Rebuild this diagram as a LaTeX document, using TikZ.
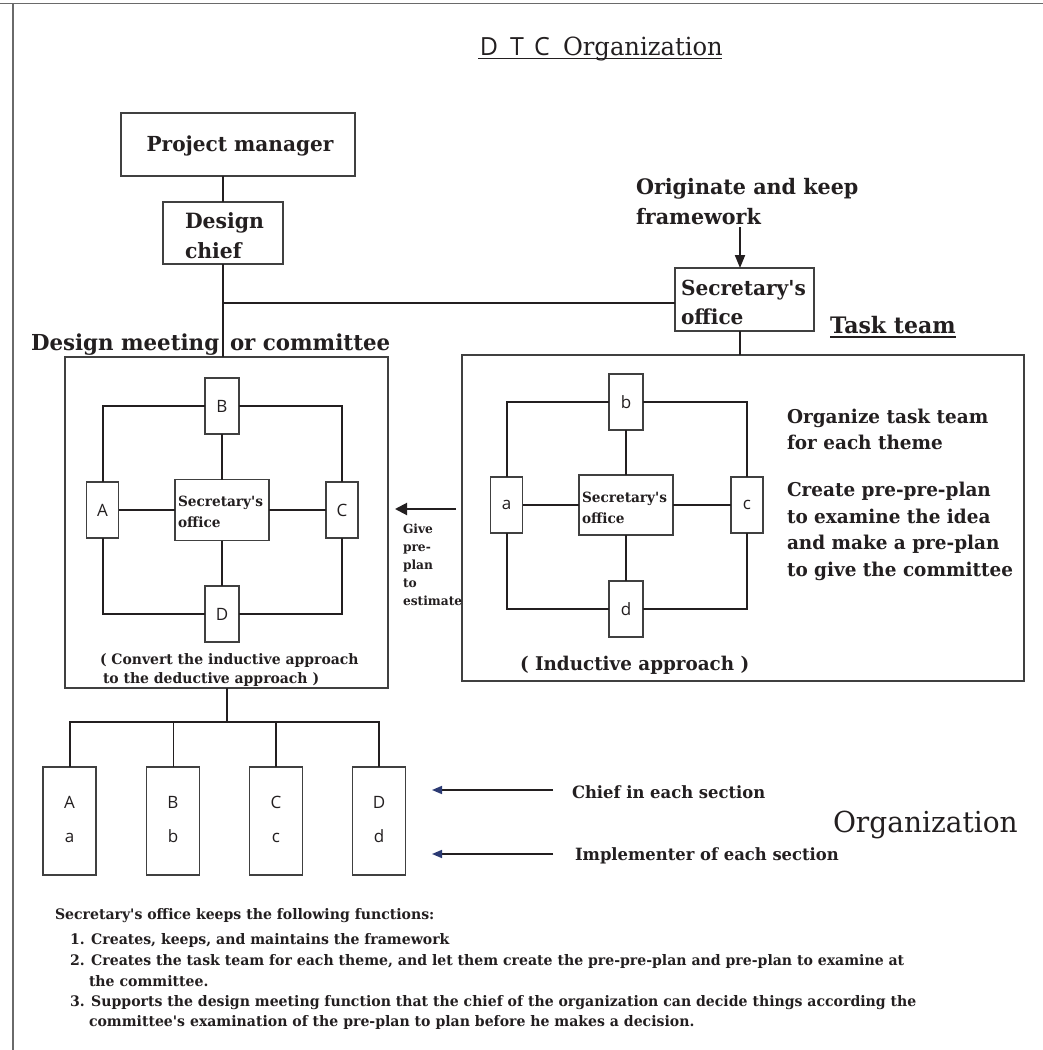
\documentclass[tikz,border=0pt]{standalone}
\usepackage{fontspec}
\setmainfont{DejaVu Serif}[FakeStretch=0.97,Ligatures=TeXOff]
\newfontfamily\sansf{Open Sans}
\usetikzlibrary{arrows.meta}
\definecolor{ink}{HTML}{231F20}
\definecolor{boxc}{HTML}{404040}
\definecolor{framec}{HTML}{6A6A6A}
\definecolor{navyc}{HTML}{2B3A73}
\newcommand\fs[1]{\fontsize{#1}{#1}\selectfont}
\begin{document}
\begin{tikzpicture}[x=1pt,y=-1pt,
  box/.style={draw=boxc,line width=1.3pt,fill=white,inner sep=0pt,outer sep=0pt},
  ltr/.style={box,font=\sansf\fs{17},text=ink},
  conn/.style={draw=ink,line width=2pt},
  tl/.style={inner sep=0pt,outer sep=0pt,anchor=base west,text=ink},
  tc/.style={inner sep=0pt,outer sep=0pt,anchor=base,text=ink},
  bt/.style={font=\bfseries\fs{#1}},
  rt/.style={font=\fs{#1}},
  sn/.style={font=\sansf\fs{#1}},
  tipbig/.style={-{Triangle[length=13pt,width=10pt]}},
  tipnavy/.style={-{Triangle[length=10pt,width=8pt,color=navyc]}}
]
\useasboundingbox (0,0) rectangle (1043,1050);
\fill[white] (0,0) rectangle (1043,1050);
% frame
\draw[framec,line width=1.6pt] (0,3.5) -- (1043,3.5);
\draw[framec,line width=1.6pt] (13,3.5) -- (13,1050);

% title
\node[tc,sn=25] (tD) at (489,55) {D};
\node[tc,sn=25] (tT) at (517,55) {T};
\node[tc,sn=25] (tC) at (542,55) {C};
\node[tl,rt=25] (tO) at (563,55) {Organization};
\draw[ink,line width=1.3pt] (478,58.5) -- (722,58.5);

% project manager / design chief
\node[box,minimum width=234pt,minimum height=63pt] (pm) at (238,144.5) {};
\node[tc,bt=20.7] (pmt) at (240,151) {Project manager};
\node[box,minimum width=120pt,minimum height=62pt] (dc) at (223,233) {};
\node[tl,bt=21] (dct1) at (185,228) {Design};
\node[tl,bt=21] (dct2) at (185,258) {chief};

% committee and task boxes
\node[box,fill=none,minimum width=323pt,minimum height=331pt] (comm) at (226.5,522.5) {};
\node[box,fill=none,minimum width=562pt,minimum height=326pt] (task) at (743,518) {};

% secretary top
\node[box,minimum width=139pt,minimum height=63pt] (secT) at (744.5,299.5) {};
\node[tl,bt=20.7] (sct1) at (681,295) {Secretary's};
\node[tl,bt=20.7] (sct2) at (681,324) {office};

\coordinate (hj) at (223,303);
\coordinate (vx) at (740,0);
\coordinate (fa) at (740,227);
\draw[conn] (pm.south -| dc) -- (dc.north);
\draw[conn] (dc.south) -- (dc.south |- comm.north);
\draw[conn] (hj) -- (hj -| secT.west);
\draw[conn] (vx |- secT.south) -- (vx |- task.north);
\draw[conn,tipbig] (fa) -- (fa |- secT.north);

\node[tl,bt=21.3] (or1) at (636,194) {Originate and keep};
\node[tl,bt=21.3] (or2) at (636,224) {framework};

\node[tl,bt=22] (dm1) at (31,350) {Design meeting};
\node[tl,bt=22] (dm2) at (230,350) {or committee};

\node[tl,bt=22.7] (tt) at (830,333) {Task team};
\draw[ink,line width=1.5pt] ([yshift=-4pt]tt.base west) -- ([yshift=-4pt]tt.base east);

% left inner diagram
\node[ltr,minimum width=34pt,minimum height=56pt] (LB) at (222,406) {B};
\node[ltr,minimum width=32pt,minimum height=56pt] (LA) at (102.5,510) {A};
\node[ltr,minimum width=32pt,minimum height=56pt] (LC) at (342,510) {C};
\node[ltr,minimum width=34pt,minimum height=56pt] (LD) at (222,614) {D};
\node[box,minimum width=94pt,minimum height=61pt] (LS) at (222,510) {};
\node[tl,bt=14.1] (lst1) at (178,506) {Secretary's};
\node[tl,bt=14.1] (lst2) at (178,527) {office};
\draw[conn] (LB) -| (LA);
\draw[conn] (LB) -| (LC);
\draw[conn] (LD) -| (LA);
\draw[conn] (LD) -| (LC);
\draw[conn] (LS) -- (LB);
\draw[conn] (LS) -- (LD);
\draw[conn] (LS) -- (LA);
\draw[conn] (LS) -- (LC);
\node[tl,bt=14.4] (cv1) at (100,664) {( Convert the inductive approach};
\node[tl,bt=14.4] (cv2) at (103,683) {to the deductive approach )};

% give arrow
\coordinate (gs) at (456,509);
\coordinate (ge) at (395,509);
\draw[conn,-{Triangle[length=12pt,width=12pt]}] (gs) -- (ge);
\node[tl,bt=12.6] (g1) at (403,533) {Give};
\node[tl,bt=12.6] (g2) at (403,551) {pre-};
\node[tl,bt=12.6] (g3) at (403,569) {plan};
\node[tl,bt=12.6] (g4) at (403,587) {to};
\node[tl,bt=12.6] (g5) at (403,605) {estimate};

% right inner diagram
\node[ltr,minimum width=34pt,minimum height=56pt] (Rb) at (626,402) {b};
\node[ltr,minimum width=32pt,minimum height=56pt] (Ra) at (506.5,505) {a};
\node[ltr,minimum width=32pt,minimum height=56pt] (Rc) at (747,505) {c};
\node[ltr,minimum width=34pt,minimum height=56pt] (Rd) at (626,609) {d};
\node[box,minimum width=94pt,minimum height=60pt] (Rs) at (626,505) {};
\node[tl,bt=14.1] (rst1) at (582,502) {Secretary's};
\node[tl,bt=14.1] (rst2) at (582,523) {office};
\draw[conn] (Rb) -| (Ra);
\draw[conn] (Rb) -| (Rc);
\draw[conn] (Rd) -| (Ra);
\draw[conn] (Rd) -| (Rc);
\draw[conn] (Rs) -- (Rb);
\draw[conn] (Rs) -- (Rd);
\draw[conn] (Rs) -- (Ra);
\draw[conn] (Rs) -- (Rc);
\node[tl,bt=18.9] (ind) at (520,670) {( Inductive approach )};
\node[tl,bt=19] (r1) at (787,423) {Organize task team};
\node[tl,bt=19] (r2) at (787,449) {for each theme};
\node[tl,bt=19] (r3) at (787,496) {Create pre-pre-plan};
\node[tl,bt=19] (r4) at (787,523) {to examine the idea};
\node[tl,bt=19] (r5) at (787,549) {and make a pre-plan};
\node[tl,bt=19] (r6) at (787,576) {to give the committee};

% bottom organization
\node[box,minimum width=53pt,minimum height=108pt] (bA) at (69.5,821) {};
\node[box,minimum width=53pt,minimum height=108pt] (bB) at (173,821) {};
\node[box,minimum width=53pt,minimum height=108pt] (bC) at (276,821) {};
\node[box,minimum width=53pt,minimum height=108pt] (bD) at (379,821) {};
\foreach \n/\x/\U/\L in {A/69.5/A/a,B/173/B/b,C/276/C/c,D/379/D/d}{
  \node[tc,sn=17] (u\n) at (\x,808) {\U};
  \node[tc,sn=17] (l\n) at (\x,842) {\L};
}
\coordinate (tj) at (226.5,722);
\draw[conn] (comm.south) -- (tj);
\draw[conn] (bA) |- (tj) -| (bD);
\draw[conn,line width=1pt] (bB) -- (bB |- tj);
\draw[conn] (bC) -- (bC |- tj);

\coordinate (ch1) at (553,790);
\coordinate (ch2) at (432,790);
\coordinate (im1) at (553,854);
\coordinate (im2) at (432,854);
\draw[conn,line width=1.6pt,tipnavy] (ch1) -- (ch2);
\draw[conn,line width=1.6pt,tipnavy] (im1) -- (im2);
\node[tl,bt=16.9] (chf) at (572,798) {Chief in each section};
\node[tl,bt=16.9] (imp) at (575,860) {Implementer of each section};
\node[tl,rt=28.9] (org) at (833,832) {Organization};

% bottom notes
\node[tl,bt=14.5] (n0) at (55,919) {Secretary's office keeps the following functions:};
\node[tl,bt=14.5] (n1) at (70,944) {1. Creates, keeps, and maintains the framework};
\node[tl,bt=14.5] (n2) at (70,965) {2. Creates the task team for each theme, and let them create the pre-pre-plan and pre-plan to examine at};
\node[tl,bt=14.5] (n3) at (89,986) {the committee.};
\node[tl,bt=14.5] (n4) at (70,1006) {3. Supports the design meeting function that the chief of the organization can decide things according the};
\node[tl,bt=14.5] (n5) at (89,1026) {committee's examination of the pre-plan to plan before he makes a decision.};
\end{tikzpicture}
\end{document}
